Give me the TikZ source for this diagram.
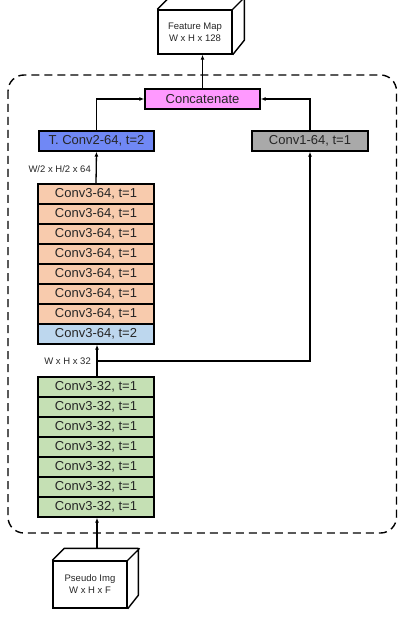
\documentclass[tikz,border=0pt]{standalone}
\usepackage{fontspec}
\setmainfont{Liberation Sans}
\usetikzlibrary{arrows.meta}
\definecolor{txt}{HTML}{262626}
\definecolor{orng}{HTML}{F8CBAD}
\definecolor{lblue}{HTML}{BDD7EE}
\definecolor{grn}{HTML}{C5E0B4}
\definecolor{pnk}{HTML}{FF99FF}
\definecolor{dblue}{HTML}{7088F5}
\definecolor{gry}{HTML}{A9A9A9}
\tikzset{
  layer/.style={draw=black, line width=1.4pt, minimum width=116pt, minimum height=20pt, inner sep=0pt,
    font=\fontsize{13}{15}\selectfont, text=txt},
  cubeface/.style={draw=black, line width=1.4pt, fill=white, inner sep=0pt, align=center,
    font=\fontsize{9.5}{12}\selectfont, text=txt},
  conn/.style={line width=1.3pt, -{Latex[length=5pt,width=4pt]}},
  plain/.style={line width=1.3pt},
  dimlbl/.style={font=\fontsize{9.5}{11}\selectfont, text=txt, inner sep=1pt},
}
\begin{document}
\begin{tikzpicture}[x=1pt,y=-1pt]
\useasboundingbox (0,0) rectangle (398,617);
% dashed container
\draw[line width=1.4pt, dash pattern=on 8pt off 5pt, rounded corners=16pt] (8,75) rectangle (396.5,533);
% top cube
\node[cubeface, minimum width=74pt, minimum height=44pt] (fmap) at (195,32) {Feature Map\\W x H x 128};
\draw[line width=1.4pt, line join=round] (fmap.north west) -- ++(13,-13) -- ++(74,0) -- ++(0,44) -- (fmap.south east)
  (fmap.north east) -- ++(13,-13);
% bottom cube
\node[cubeface, minimum width=74pt, minimum height=47pt] (pimg) at (90,584.5) {Pseudo Img\\W x H x F};
\draw[line width=1.4pt, line join=round] (pimg.north west) -- ++(12,-12) -- ++(74,0) -- ++(0,47) -- (pimg.south east)
  (pimg.north east) -- ++(12,-12);
\coordinate (ptop) at (97,548.5);
% top layers
\node[layer, fill=pnk, minimum width=115pt] (cat) at (202.5,99) {Concatenate};
\node[layer, fill=dblue, minimum width=115pt] (tconv) at (96.5,141) {T. Conv2-64, t=2};
\node[layer, fill=gry] (c1) at (310,141) {Conv1-64, t=1};
% conv3-64 stack
\foreach \i in {1,...,7} {
  \node[layer, fill=orng] (o\i) at (96,174+20*\i) {Conv3-64, t=1};
}
\node[layer, fill=lblue] (ob) at (96,334) {Conv3-64, t=2};
% conv3-32 stack
\foreach \i in {1,...,7} {
  \node[layer, fill=grn] (g\i) at (96,367+20*\i) {Conv3-32, t=1};
}
\foreach \i in {1,...,7} { \draw[line width=1.4pt] (o\i.north west) rectangle (o\i.south east); }
% connectors
\draw[conn] (ptop) -- (ptop |- g7.south);
\draw[conn] (g1.north -| ptop) -- (ob.south -| ptop);
\coordinate (br) at (97,361);
\draw[conn] (br) -| (c1.south);
\draw[conn] (o1.north) -- (tconv.south);
\draw[conn] (tconv.north) |- (cat.west);
\draw[conn] (c1.north) |- (cat.east);
\draw[conn] (cat.north) -- (fmap.south -| cat.north);
% labels
\node[dimlbl, anchor=east] (l64) at (92,169) {W/2 x H/2 x 64};
\node[dimlbl, anchor=east] (l32) at (92,361) {W x H x 32};
\end{tikzpicture}
\end{document}
